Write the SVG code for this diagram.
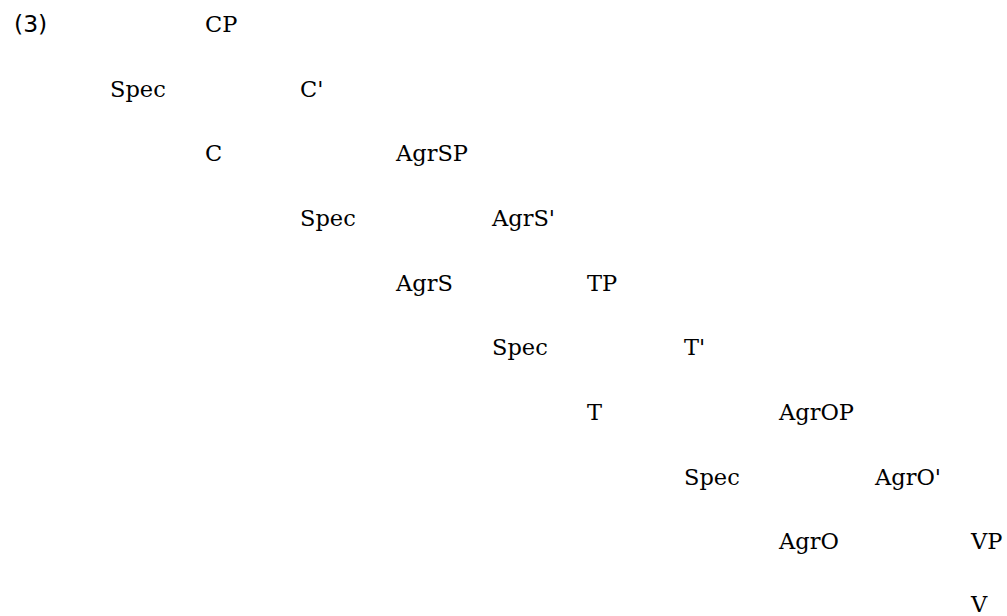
<svg xmlns="http://www.w3.org/2000/svg" width="1007" height="616" viewBox="0 0 1007 616">
  <style>
    .lbl { font-family: "DejaVu Serif", "Liberation Serif", serif; font-size: 22.5px; fill: #000; }
    .num { font-family: "DejaVu Sans", "Liberation Sans", sans-serif; font-size: 23.5px; fill: #000; }
  </style>
  <rect width="1007" height="616" fill="#fff"/>
  <text class="num" x="14" y="32">(3)</text>
  <!-- tree nodes: columns step ~95.6px, rows step ~64.7px -->
  <g id="n-cp"><text class="lbl" x="205" y="32">CP</text></g>
  <g id="n-spec1"><text class="lbl" x="110" y="97">Spec</text></g>
  <g id="n-cbar"><text class="lbl" x="300" y="97">C'</text></g>
  <g id="n-c"><text class="lbl" x="205" y="161">C</text></g>
  <g id="n-agrsp"><text class="lbl" x="396" y="161">AgrSP</text></g>
  <g id="n-spec2"><text class="lbl" x="300" y="226">Spec</text></g>
  <g id="n-agrsbar"><text class="lbl" x="492" y="226">AgrS'</text></g>
  <g id="n-agrs"><text class="lbl" x="396" y="291">AgrS</text></g>
  <g id="n-tp"><text class="lbl" x="587" y="291">TP</text></g>
  <g id="n-spec3"><text class="lbl" x="492" y="355">Spec</text></g>
  <g id="n-tbar"><text class="lbl" x="684" y="355">T'</text></g>
  <g id="n-t"><text class="lbl" x="587" y="420">T</text></g>
  <g id="n-agrop"><text class="lbl" x="779" y="420">AgrOP</text></g>
  <g id="n-spec4"><text class="lbl" x="684" y="485">Spec</text></g>
  <g id="n-agrobar"><text class="lbl" x="875" y="485">AgrO'</text></g>
  <g id="n-agro"><text class="lbl" x="779" y="549">AgrO</text></g>
  <g id="n-vp"><text class="lbl" x="971" y="549">VP</text></g>
  <g id="n-v"><text class="lbl" x="971" y="612">V</text></g>
  <g id="connectors"></g>
</svg>
